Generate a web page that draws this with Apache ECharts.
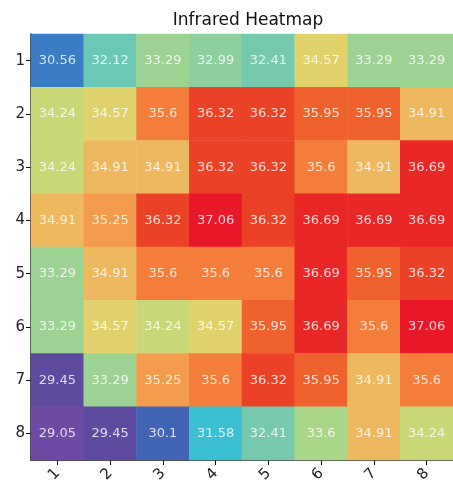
<!DOCTYPE html>
<html><head><meta charset="utf-8">
<script src="https://cdn.jsdelivr.net/npm/echarts@6/dist/echarts.min.js"></script>
<style>html,body{margin:0;padding:0;background:#fff;}#c{width:453px;height:486px;}</style>
</head><body><div id="c"></div>
<script>
const xLabels = ['1','2','3','4','5','6','7','8'];
const yLabels = ['1','2','3','4','5','6','7','8'];
const row1 = [30.56, 32.12, 33.29, 32.99, 32.41, 34.57, 33.29, 33.29];
const row2 = [34.24, 34.57, 35.6, 36.32, 36.32, 35.95, 35.95, 34.91];
const row3 = [34.24, 34.91, 34.91, 36.32, 36.32, 35.6, 34.91, 36.69];
const row4 = [34.91, 35.25, 36.32, 37.06, 36.32, 36.69, 36.69, 36.69];
const row5 = [33.29, 34.91, 35.6, 35.6, 35.6, 36.69, 35.95, 36.32];
const row6 = [33.29, 34.57, 34.24, 34.57, 35.95, 36.69, 35.6, 37.06];
const row7 = [29.45, 33.29, 35.25, 35.6, 36.32, 35.95, 34.91, 35.6];
const row8 = [29.05, 29.45, 30.1, 31.58, 32.41, 33.6, 34.91, 34.24];
const rows = [row1, row2, row3, row4, row5, row6, row7, row8];

const data = [];
rows.forEach((r, yi) => r.forEach((v, xi) => data.push([xi, yi, v])));
const all = rows.flat();
const vmin = Math.min(...all), vmax = Math.max(...all);

const chart = echarts.init(document.getElementById('c'), null, {renderer: 'canvas'});
chart.setOption({
  animation: false,
  title: {text: 'Infrared Heatmap', left: 243, textAlign: 'center', top: 7,
    textStyle: {fontFamily: 'DejaVu Sans', fontSize: 17, fontWeight: 'normal', color: '#111'}},
  grid: {left: 31, top: 34, width: 427, height: 426},
  xAxis: [{type: 'category', data: xLabels, position: 'bottom',
    axisLine: {show: true, lineStyle: {color: '#111', width: 1.5}},
    axisTick: {show: true, alignWithLabel: true, length: 5, lineStyle: {color: '#111'}},
    axisLabel: {rotate: 45, fontFamily: 'DejaVu Sans', fontSize: 15, color: '#222', margin: 11},
    splitLine: {show: false}},
   {type: 'category', data: xLabels, position: 'top',
    axisLine: {show: true, lineStyle: {color: '#222', width: 1.2}},
    axisTick: {show: false}, axisLabel: {show: false}, splitLine: {show: false}}],
  yAxis: {type: 'category', data: yLabels, inverse: true,
    axisLine: {show: true, lineStyle: {color: '#111', width: 1.5}},
    axisTick: {show: true, alignWithLabel: true, length: 5, lineStyle: {color: '#111'}},
    axisLabel: {fontFamily: 'DejaVu Sans', fontSize: 15, color: '#222', margin: 6},
    splitLine: {show: false}},
  visualMap: {show: false, type: 'continuous', min: vmin, max: vmax, dimension: 2,
    inRange: {color: ['#6e4aa4','#5a4b9f','#4262b2','#3a7cc4','#3a9ccb','#38bfd2','#68c8b8','#7ccaa8',
      '#92d09b','#a8d68a','#bedb7e','#e0d46c','#f4ad58','#f5803a','#ee5a2a','#e92c25','#e8182a']}},
  series: [{type: 'heatmap', data: data, xAxisIndex: 0,
    label: {show: true, fontFamily: 'DejaVu Sans', fontSize: 13, color: 'rgba(255,255,255,0.8)',
      formatter: p => String(p.value[2])},
    itemStyle: {borderWidth: 0}}]
});
</script></body></html>
